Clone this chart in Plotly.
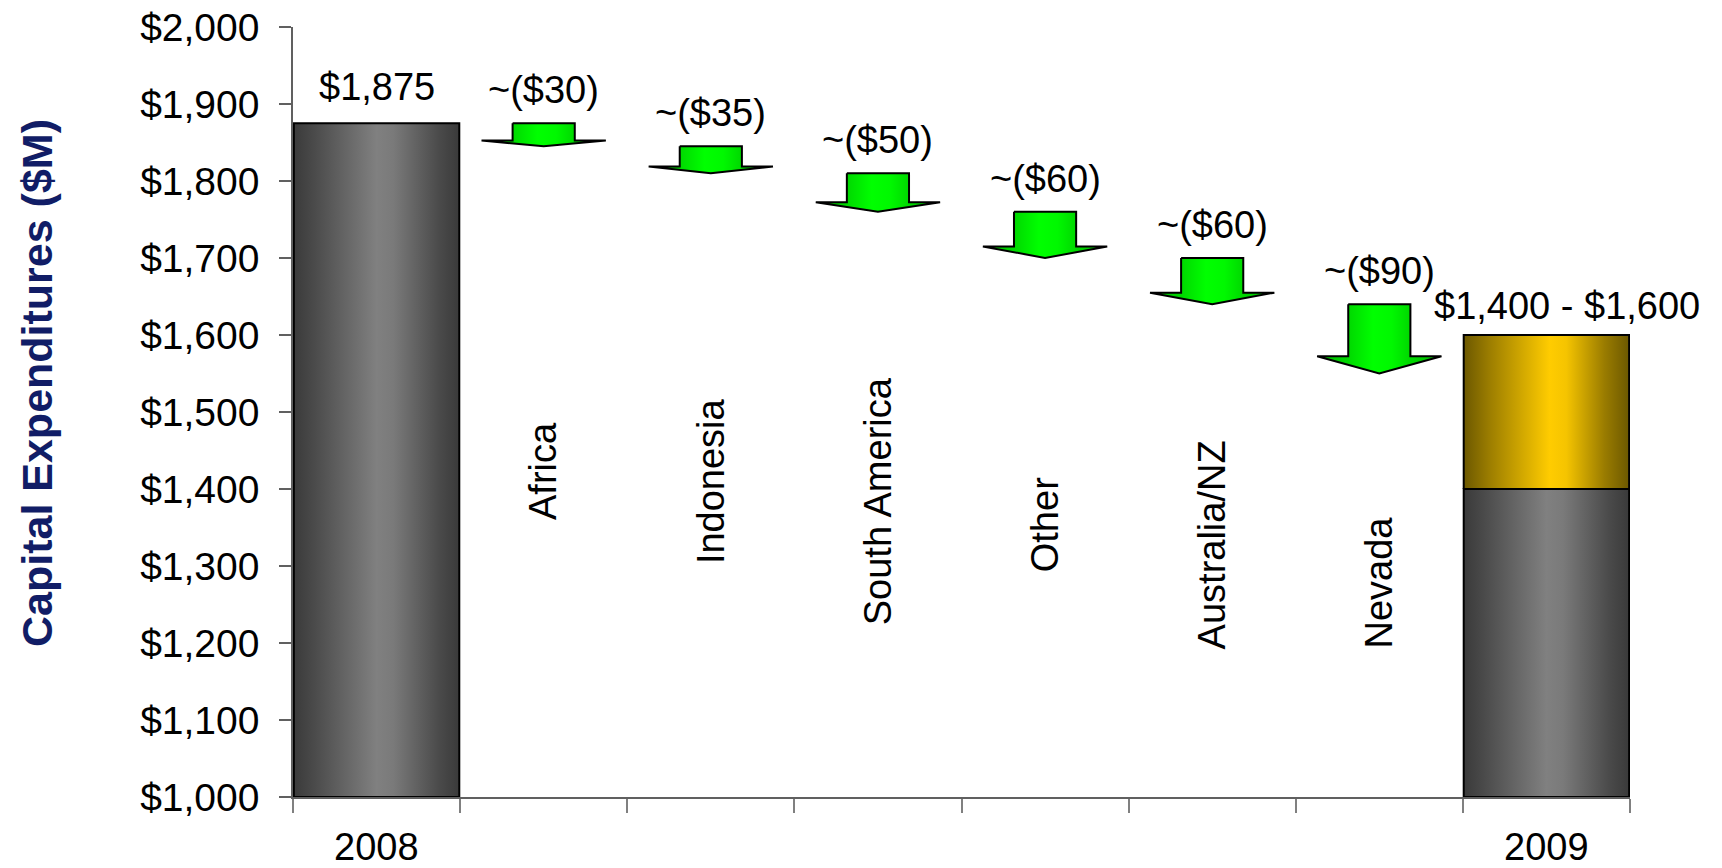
import plotly.graph_objects as go

# ---- data -------------------------------------------------------------
categories = ["2008", "Africa", "Indonesia", "South America", "Other",
              "Australia/NZ", "Nevada", "2009"]
capex_2008 = 1875
regional_changes = [-30, -35, -50, -60, -60, -90]
capex_2009_low = 1400
capex_2009_high = 1600
y_tick_values = list(range(1000, 2001, 100))
y_tick_text = [f"${v:,}" for v in y_tick_values]

# ---- layout helpers (positions / styles) ------------------------------
region_label_y = [1423, 1410, 1384, 1353, 1327, 1279]
FONT = "Liberation Sans, Arial, sans-serif"
FS = 38
Y_MIN, Y_MAX = 1000, 2000
BAR_HALF = 0.495
SHAFT_HALF = 0.186
HEAD_HALF = 0.372
HEAD_FRAC = 0.25

gray_scale = [[0, "#3a3a3a"], [0.12, "#4a4a4a"], [0.5, "#808080"],
              [0.6, "#7a7a7a"], [0.88, "#4a4a4a"], [1, "#3a3a3a"]]
gold_scale = [[0, "#6c5800"], [0.15, "#9a7c00"], [0.52, "#ffcc00"],
              [0.62, "#f5c400"], [0.85, "#9a7c00"], [1, "#6c5800"]]
green_scale = [[0, "#00b800"], [0.25, "#00d800"], [0.45, "#00ff00"],
               [0.6, "#00f800"], [0.75, "#00d800"], [1, "#00b800"]]

fig = go.Figure()


def add_block(xc, bottom, top, scale):
    fig.add_trace(go.Scatter(
        x=[xc - BAR_HALF, xc + BAR_HALF, xc + BAR_HALF, xc - BAR_HALF, xc - BAR_HALF],
        y=[bottom, bottom, top, top, bottom],
        mode="lines", fill="toself",
        fillgradient=dict(type="horizontal", colorscale=scale),
        line=dict(color="black", width=2),
        hoverinfo="skip", showlegend=False,
    ))


def add_arrow(xc, top, bottom):
    hb = bottom + HEAD_FRAC * (top - bottom)
    xs = [xc - SHAFT_HALF, xc + SHAFT_HALF, xc + SHAFT_HALF, xc + HEAD_HALF,
          xc, xc - HEAD_HALF, xc - SHAFT_HALF, xc - SHAFT_HALF]
    ys = [top, top, hb, hb, bottom, hb, hb, top]
    fig.add_trace(go.Scatter(
        x=xs, y=ys, mode="lines", fill="toself",
        fillgradient=dict(type="horizontal", colorscale=green_scale),
        line=dict(color="black", width=2),
        hoverinfo="skip", showlegend=False,
    ))


annotations = []

# 2008 bar
add_block(0, Y_MIN, capex_2008, gray_scale)
annotations.append(dict(x=0, y=capex_2008, text=f"${capex_2008:,}", showarrow=False,
                        yanchor="middle", yshift=36, font=dict(size=FS)))

# regional reductions as down arrows
level = capex_2008
for i, d in enumerate(regional_changes):
    xc = i + 1
    new_level = level + d
    add_arrow(xc, level, new_level)
    annotations.append(dict(x=xc, y=level, text=f"~(${abs(d)})", showarrow=False,
                            yanchor="middle", yshift=33, font=dict(size=FS)))
    annotations.append(dict(x=xc, y=region_label_y[i], text=categories[xc],
                            showarrow=False, textangle=-90, font=dict(size=FS)))
    level = new_level

# 2009 range bar
add_block(7, Y_MIN, capex_2009_low, gray_scale)
add_block(7, capex_2009_low, capex_2009_high, gold_scale)
annotations.append(dict(x=7, y=capex_2009_high,
                        text=f"${capex_2009_low:,} - ${capex_2009_high:,}",
                        showarrow=False, yanchor="middle", yshift=29, xshift=21,
                        font=dict(size=FS)))

# year labels under the axis
for idx in (0, 7):
    annotations.append(dict(x=idx, y=0, yref="paper", text=categories[idx],
                            showarrow=False, yanchor="middle", yshift=-50,
                            font=dict(size=FS)))

# y axis title
annotations.append(dict(x=-0.192, y=0.538, xref="paper", yref="paper",
                        xanchor="center", yanchor="middle",
                        text="<b>Capital Expenditures ($M)</b>", textangle=-90,
                        showarrow=False, font=dict(size=43, color="#111d66")))

boundaries = [i - 0.5 for i in range(len(categories) + 1)]

fig.update_layout(
    width=1722, height=868,
    margin=dict(l=293, r=92, t=27, b=71),
    paper_bgcolor="white", plot_bgcolor="white",
    font=dict(family=FONT, size=FS, color="black"),
    annotations=annotations,
    xaxis=dict(range=[-0.5, len(categories) - 0.5], tickvals=boundaries,
               showticklabels=False, ticks="outside", ticklen=14, tickwidth=1.5,
               tickcolor="#808080", showline=True, linecolor="#606060", linewidth=1.5,
               showgrid=False, zeroline=False, fixedrange=True, automargin=False),
    yaxis=dict(range=[Y_MIN, Y_MAX], tickvals=y_tick_values, ticktext=y_tick_text,
               ticks="outside", ticklen=12, tickwidth=1.5,
               tickcolor="#606060", showline=True, linecolor="#606060", linewidth=1.5,
               showgrid=False, zeroline=False, ticklabelstandoff=12,
               tickfont=dict(size=39, color="black"), fixedrange=True,
               automargin=False),
)

fig.write_html("out.html")
